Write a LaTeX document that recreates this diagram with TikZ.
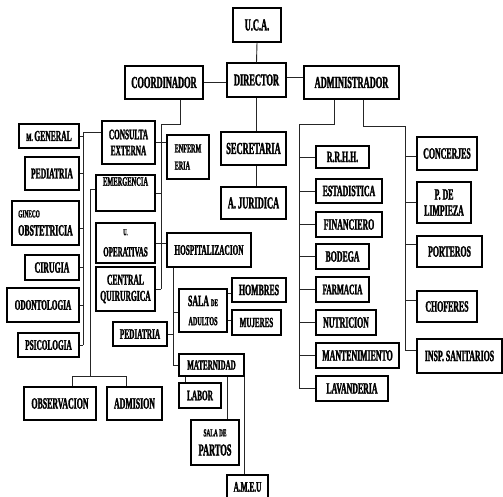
\documentclass[tikz,border=0pt]{standalone}
\usepackage{fontspec}
\newfontfamily\cf{Liberation Serif Bold}[FakeStretch=0.5,FakeBold=1.6]
\newcommand\fz[1]{\fontsize{\fpeval{#1*1.12}}{\fpeval{#1*1.08}}\selectfont}
\newcommand\mybox[7][]{\node[bx,minimum width={#5-#3},minimum height={#6-#4},#1] (#2) at ({(#3+#5)/2},{(#4+#6)/2}) {#7};}
\tikzset{
  bx/.style={draw=black, line width=1.1pt, inner sep=0pt, align=center, font=\cf\fz{14}},
  ln/.style={draw=black!85, line width=0.9pt},
  lft/.style={align=left}
}
\begin{document}
\begin{tikzpicture}[x=1pt,y=-1pt]
\useasboundingbox (0,0) rectangle (503,497);
\fill[white] (0,0) rectangle (503,497);
% top
\mybox{uca}{233}{8}{281}{42}{\fz{15}U.C.A.}
\mybox{director}{227}{63}{286}{97}{\fz{15}DIRECTOR}
\mybox{coord}{125}{66}{203}{99}{\fz{15}COORDINADOR}
\mybox{admin}{304}{66}{399}{99}{\fz{15}ADMINISTRADOR}
\mybox{secre}{221}{132}{286}{165}{\fz{15}SECRETARIA}
\mybox{juri}{221}{187}{286}{219}{\fz{15}A. JURIDICA}
% middle column
\mybox{consulta}{102}{121}{155}{164}{\fz{13}CONSULTA\\[1pt]\fz{13}EXTERNA}
\mybox[lft]{enfer}{167}{135}{209}{179}{\fz{11}ENFERM\\[2pt]\fz{11}ERIA}
\mybox{emerg}{96}{175}{155}{211}{\fz{11.5}EMERGENCIA\\[8pt]\mbox{}}
\mybox{uoper}{96}{223}{155}{263}{\fz{8}U.\\[6pt]\fz{12.5}OPERATIVAS}
\mybox{central}{96}{267}{155}{311}{\fz{13.5}CENTRAL\\[1pt]\fz{13.5}QUIRURGICA}
\mybox{hosp}{167}{233}{251}{267}{\fz{13}HOSPITALIZACION}
% left column
\mybox{mgen}{19}{124}{79}{148}{\fz{10}M. \fz{13.5}GENERAL}
\mybox{ped}{25}{157}{79}{190}{\fz{13.5}PEDIATRIA}
\mybox[lft]{gineco}{12}{201}{79}{245}{\fz{9.5}GINECO\\[3pt]\fz{14}OBSTETRICIA}
\mybox{ciru}{25}{255}{79}{280}{\fz{14}CIRUGIA}
\mybox{odon}{7}{288}{79}{322}{\fz{13}ODONTOLOGIA}
\mybox{psico}{18}{333}{79}{357}{\fz{13}PSICOLOGIA}
\mybox{obs}{24}{387}{96}{420}{\fz{14}OBSERVACION}
\mybox{admis}{107}{387}{162}{420}{\fz{14}ADMISION}
% hospitalizacion branch
\mybox{sala}{179}{289}{227}{332}{\fz{14}SALA \fz{9}DE\\[4pt]\fz{11}ADULTOS}
\mybox{pedb}{113}{322}{167}{346}{\fz{13}PEDIATRIA}
\mybox{hombres}{232}{278}{286}{302}{\fz{14}HOMBRES}
\mybox{mujeres}{232}{310}{281}{335}{\fz{12.5}MUJERES}
\mybox{mater}{179}{354}{244}{376}{\fz{12.5}MATERNIDAD}
\mybox{labor}{179}{383}{221}{408}{\fz{13}LABOR}
\mybox{partos}{191}{420}{239}{465}{\fz{9.5}SALA DE\\[4pt]\fz{15}PARTOS}
\mybox{ameu}{227}{475}{268}{499}{\fz{13}A.M.E.U}
% admin branch
\mybox{rrhh}{316}{146}{369}{168}{\fz{14}R.R.H.H.}
\mybox{estad}{316}{179}{382}{203}{\fz{14}ESTADISTICA}
\mybox{finan}{316}{212}{382}{237}{\fz{14}FINANCIERO}
\mybox{bodega}{316}{244}{369}{269}{\fz{14}BODEGA}
\mybox{farma}{316}{277}{369}{302}{\fz{13}FARMACIA}
\mybox{nutri}{316}{310}{376}{335}{\fz{14}NUTRICION}
\mybox{mante}{316}{343}{399}{368}{\fz{14}MANTENIMIENTO}
\mybox{lavan}{316}{376}{388}{401}{\fz{14}LAVANDERIA}
\mybox{concer}{417}{137}{477}{170}{\fz{14}CONCERJES}
\mybox{limp}{417}{182}{471}{223}{\fz{14}P. DE\\[1pt]\fz{14}LIMPIEZA}
\mybox{porte}{417}{236}{482}{267}{\fz{14}PORTEROS}
\mybox{chofe}{417}{291}{477}{322}{\fz{14}CHOFERES}
\mybox{insp}{417}{339}{502}{373}{\fz{14}INSP. SANITARIOS}
% coordinates
\coordinate (c1) at (180,124);
\coordinate (bA) at (161,124);
\coordinate (bL) at (83,132);
\coordinate (bM) at (90,189);
\coordinate (bMb) at (90,376);
\coordinate (ob) at (72,376);
\coordinate (ad) at (126,376);
\coordinate (bH) at (173,267);
\coordinate (lb) at (185,376);
\coordinate (pt) at (227,376);
\coordinate (aL) at (334,124);
\coordinate (bR1) at (299,124);
\coordinate (aR) at (363,126);
\coordinate (bR2) at (405,126);
\coordinate (insE) at (405,350);
% connectors top
\draw[ln] (uca.south) -- (director.north);
\draw[ln] (director.south) -- (director.south |- secre.north);
\draw[ln] (director.south |- secre.south) -- (director.south |- juri.north);
\draw[ln] (coord.east) -- (coord.east -| director.west);
\draw[ln] ([yshift=3pt]director.east) -- ([yshift=3pt]director.east -| admin.west);
% coordinador
\draw[ln] (c1 |- coord.south) -- (c1) -- (bA) -- (bA |- central.east);
\draw[ln] (consulta.east) -- (consulta.east -| enfer.west);
\draw[ln] (emerg.east) -- (emerg.east -| bA);
\draw[ln] (central.east) -- (central.east -| bA);
\draw[ln] (uoper.east) -- (uoper.east -| hosp.west);
% left bus
\draw[ln] (bL -| consulta.west) -- (bL) -- (bL |- psico.east);
\foreach \n in {mgen,ped,ciru,odon,psico}{\draw[ln] (\n.east) -- (\n.east -| bL);}
\draw[ln] ([yshift=-5pt]gineco.east) -- ([yshift=-5pt]gineco.east -| bL);
% second left bus
\draw[ln] (bM -| emerg.west) -- (bM) -- (bMb);
\draw[ln] (ob |- obs.north) -- (ob) -- (ad) -- (ad |- admis.north);
% hospitalizacion
\draw[ln] (bH |- hosp.south) -- (bH |- mater.west) -- (mater.west);
\draw[ln] ([yshift=-2pt]sala.west) -- ([yshift=-2pt]sala.west -| bH);
\draw[ln] (pedb.east) -- (pedb.east -| bH);
\draw[ln] ([yshift=-3pt]hombres.west) -- ([yshift=-3pt]hombres.west -| sala.east);
\draw[ln] ([yshift=2pt]mujeres.west) -- ([yshift=2pt]mujeres.west -| sala.east);
% maternidad
\draw[ln] (lb |- mater.south) -- (lb |- labor.north);
\draw[ln] (pt |- mater.south) -- (pt |- partos.north);
\draw[ln] (mater.south east) -- (mater.south east |- ameu.north);
% administrador
\draw[ln] (aL |- admin.south) -- (aL) -- (bR1) -- (bR1 |- lavan.west);
\foreach \n in {rrhh,estad,finan,bodega,farma,nutri,mante,lavan}{\draw[ln] (\n.west) -- (\n.west -| bR1);}
\draw[ln] (aR |- admin.south) -- (aR) -- (bR2) -- (insE) -- (insE -| insp.west);
\draw[ln] ([yshift=-3pt]concer.west) -- ([yshift=-3pt]concer.west -| bR2);
\draw[ln] (limp.west) -- (limp.west -| bR2);
\draw[ln] ([yshift=7pt]porte.west) -- ([yshift=7pt]porte.west -| bR2);
\draw[ln] ([yshift=6pt]chofe.west) -- ([yshift=6pt]chofe.west -| bR2);
\end{tikzpicture}
\end{document}
